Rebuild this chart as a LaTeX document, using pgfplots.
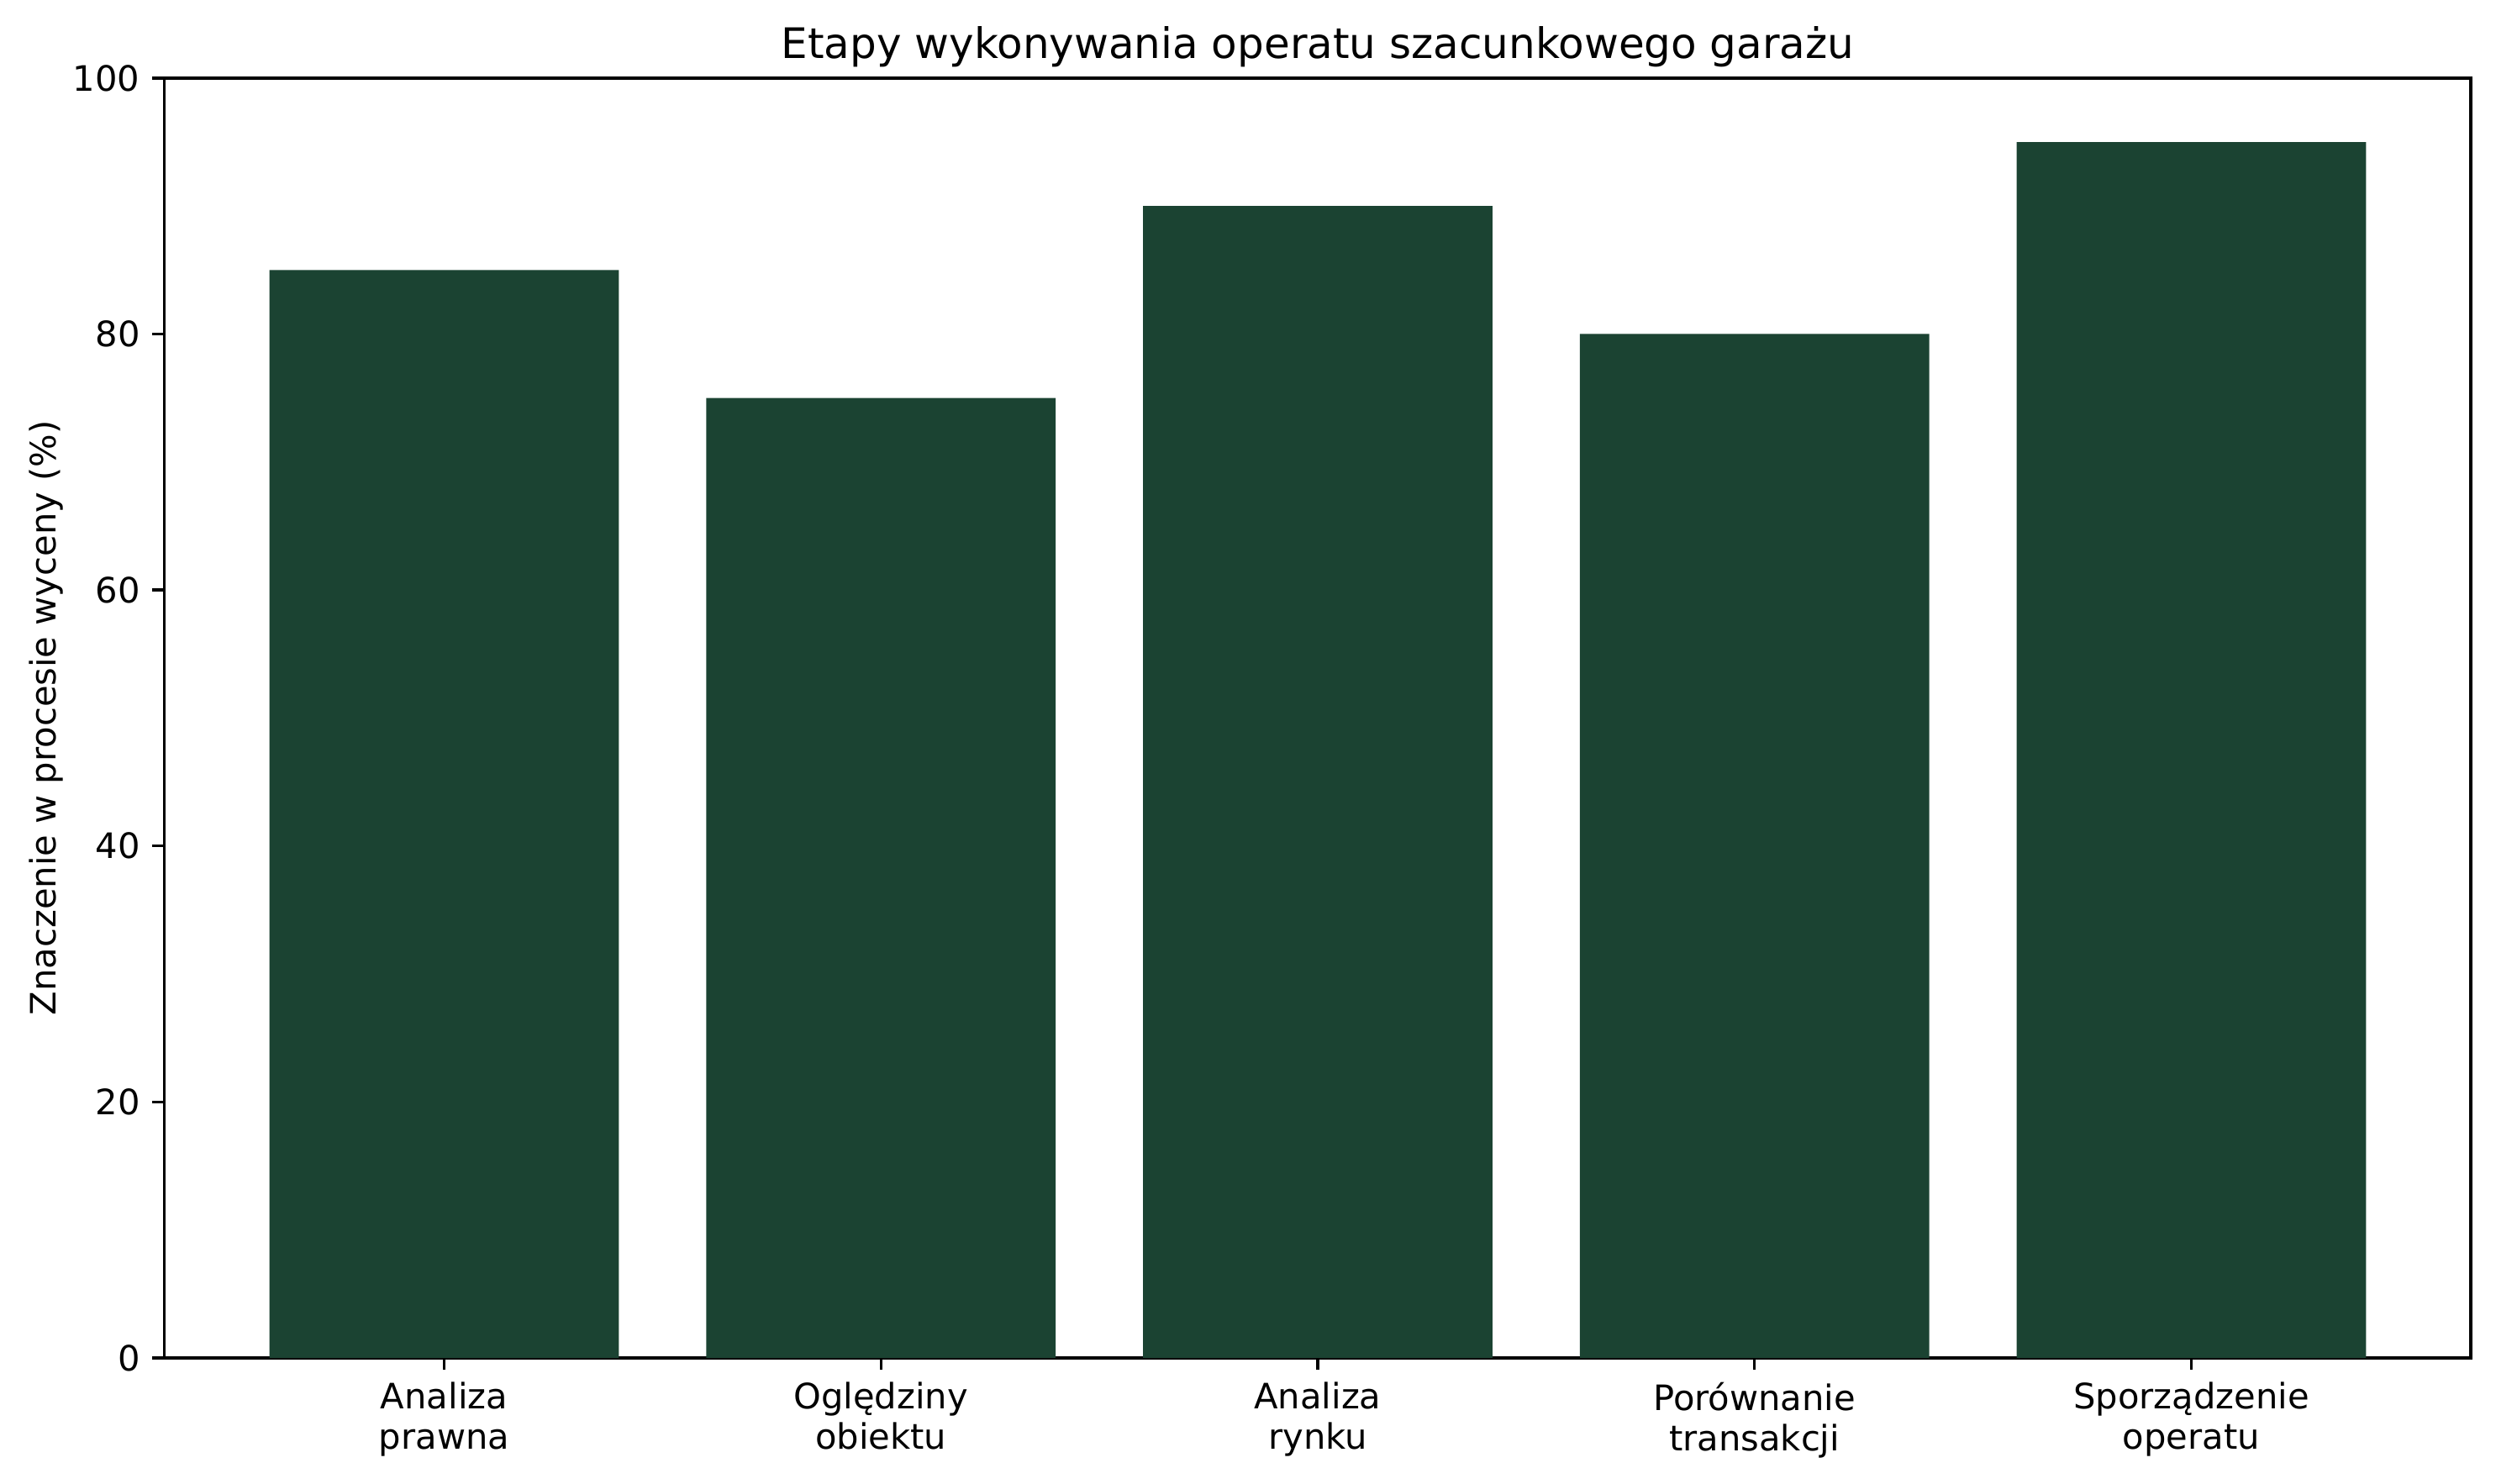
\documentclass[border=0pt]{standalone}
\usepackage{fontspec}
\setmainfont{DejaVu Sans}
\usepackage{pgfplots}
\pgfplotsset{compat=1.18}
\definecolor{barc}{HTML}{1B4332}
\begin{document}
\begin{tikzpicture}
\useasboundingbox (-47pt,-35.8pt) rectangle (665.8pt,387.8pt);
\begin{axis}[
  at={(0pt,0pt)}, anchor=south west,
  scale only axis, width=658.6pt, height=365.5pt,
  xmin=-0.64, xmax=4.64, ymin=0, ymax=100,
  ytick={0,20,40,60,80,100},
  xtick={0,1,2,3,4},
  xticklabels={Analiza\\prawna, Oględziny\\obiektu, Analiza\\rynku, Porównanie\\transakcji, Sporządzenie\\operatu},
  xticklabel style={align=center, font=\fontsize{10}{11.5}\selectfont},
  yticklabel style={font=\fontsize{10}{12}\selectfont},
  /pgf/number format/assume math mode=true,
  tick align=outside, tick pos=left,
  major tick length=3.5pt,
  every tick/.style={black, line width=0.8pt},
  axis line style={line width=0.8pt},
  title={Etapy wykonywania operatu szacunkowego garażu},
  title style={font=\fontsize{12}{14}\selectfont, yshift=-6.5pt},
  ylabel={Znaczenie w procesie wyceny (\%)},
  ylabel shift=-4pt,
  ylabel style={font=\fontsize{10}{12}\selectfont},
  ybar, bar width=0.8, bar shift=0pt,
]
\addplot[fill=barc, draw=none] coordinates {(0,85) (1,75) (2,90) (3,80) (4,95)};
\end{axis}
\end{tikzpicture}
\end{document}
